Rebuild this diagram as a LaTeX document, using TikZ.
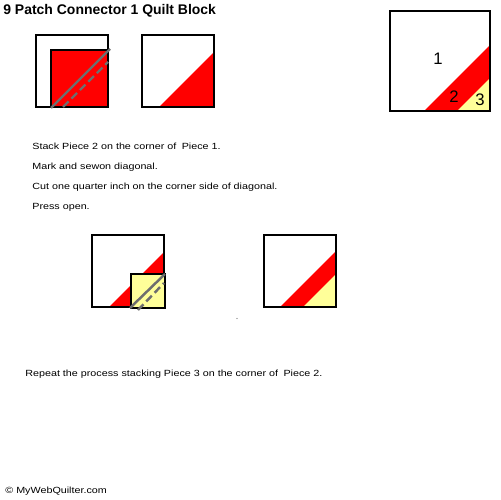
\documentclass[tikz,border=0pt]{standalone}
\usepackage{fontspec}
\setmainfont{Liberation Sans}
\newfontfamily\bodyfont[FakeStretch=1.2]{Liberation Sans}
\definecolor{qred}{HTML}{FF0000}
\definecolor{qyellow}{HTML}{FFFF99}
\definecolor{qgray}{HTML}{6E6E6E}
\tikzset{
  blk/.style={draw=black, line width=0.65pt},
  seam/.style={draw=qgray, line width=1.4pt},
  cutline/.style={draw=qgray, line width=1.4pt, dash pattern=on 4.5pt off 2.3pt},
  body/.style={anchor=base west, inner sep=0pt, font=\bodyfont\fontsize{5.1pt}{6pt}\selectfont},
  numlab/.style={anchor=base, inner sep=0pt, font=\fontsize{9.5pt}{11pt}\selectfont}
}
\begin{document}
\begin{tikzpicture}[x=0.02cm, y=-0.02cm]
\useasboundingbox (0,0) rectangle (500,500);
\fill[white] (0,0) rectangle (500,500);

% title
\node[anchor=base west, inner sep=0pt, font=\bfseries\fontsize{7.95pt}{9pt}\selectfont] (title) at (3,15) {9 Patch Connector 1 Quilt Block};

% block 1
\draw[blk, fill=white] (36,35) rectangle (108,107);
\draw[blk, fill=qred] (51,50) rectangle (108,107);
\draw[seam] (51,108) -- (110,49);
\draw[cutline] (63,107) -- (108,62);

% block 2
\fill[white] (142,35) rectangle (214,107);
\fill[qred] (159,107) -- (214,52) -- (214,107) -- cycle;
\draw[blk] (142,35) rectangle (214,107);

% final block top right
\fill[white] (390,11) rectangle (490,111);
\fill[qred] (424,111) -- (490,45) -- (490,111) -- cycle;
\fill[qyellow] (457,111) -- (490,78) -- (490,111) -- cycle;
\draw[blk] (390,11) rectangle (490,111);
\node[numlab] (n1) at (438,65) {1};
\node[numlab] (n2) at (454,103) {2};
\node[numlab] (n3) at (480,106) {3};

% instructions
\node[body] (t1) at (32,149.5) {Stack Piece 2 on the corner of\hspace{0.6em}Piece 1.};
\node[body] (t2) at (32,169.5) {Mark and sewon diagonal.};
\node[body] (t3) at (32,189.5) {Cut one quarter inch on the corner side of diagonal.};
\node[body] (t4) at (32,209.5) {Press open.};

% block 3
\fill[white] (92,235) rectangle (164,307);
\fill[qred] (109,307) -- (164,252) -- (164,307) -- cycle;
\draw[blk] (92,235) rectangle (164,307);
\draw[blk, fill=qyellow] (131,274) rectangle (165,308);
\draw[seam] (130,308) -- (165,274);
\draw[cutline] (138,310) -- (164,283);

% block 4
\fill[white] (264,235) rectangle (336,307);
\fill[qred] (280,307) -- (336,251) -- (336,307) -- cycle;
\fill[qyellow] (303,307) -- (336,274) -- (336,307) -- cycle;
\draw[blk] (264,235) rectangle (336,307);

% tiny dot
\fill[qgray] (237,318.5) circle (0.6);

\node[body] (t5) at (25,376.5) {Repeat the process stacking Piece 3 on the corner of\hspace{0.6em}Piece 2.};

\node[body] (foot) at (5,493) {© MyWebQuilter.com};
\end{tikzpicture}
\end{document}
